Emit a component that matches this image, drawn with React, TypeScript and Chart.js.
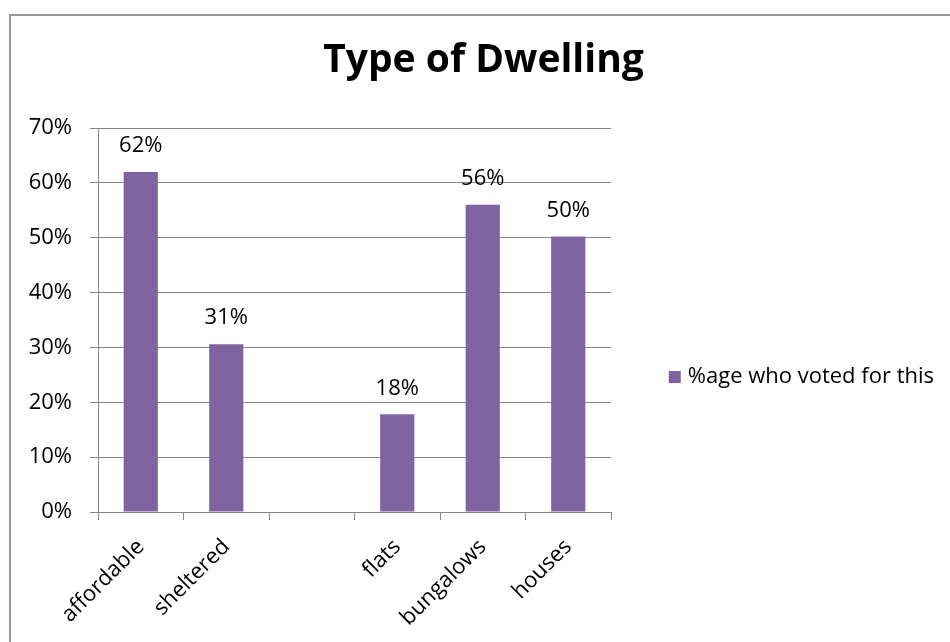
import React, { useEffect, useRef } from "react";
import { Chart, registerables } from "chart.js";

Chart.register(...registerables);

const TITLE = "Type of Dwelling";
const SERIES_LABEL = "%age who voted for this";
const CATEGORIES = ["affordable", "sheltered", "", "flats", "bungalows", "houses"];
const VALUES: (number | null)[] = [62, 30.6, null, 17.8, 56, 50.2];
const Y_MAX = 70;
const Y_STEP = 10;

const BAR_COLOR = "#8064A2";
const GRID_COLOR = "#868686";
const FONT_FAMILY = "'Open Sans', 'Noto Sans', sans-serif";

const dataLabels = {
  id: "dataLabels",
  afterDatasetsDraw(chart: any) {
    const { ctx } = chart;
    const meta = chart.getDatasetMeta(0);
    const values = chart.data.datasets[0].data;
    ctx.save();
    ctx.font = `22px ${FONT_FAMILY}`;
    ctx.fillStyle = "#000";
    ctx.textAlign = "center";
    ctx.textBaseline = "middle";
    meta.data.forEach((el: any, i: number) => {
      const v = values[i];
      if (v === null || v === undefined) return;
      ctx.fillText(Math.round(v) + "%", el.x, el.y - 26);
    });
    ctx.restore();
  },
};

const sideLegend = {
  id: "sideLegend",
  afterDraw(chart: any) {
    const { ctx, chartArea } = chart;
    const ds = chart.data.datasets[0];
    ctx.save();
    ctx.font = `22px ${FONT_FAMILY}`;
    const textW = ctx.measureText(ds.label).width;
    const textEnd = chartArea.right + 323;
    const tx = textEnd - textW;
    const cy = chartArea.top + 249;
    ctx.fillStyle = ds.backgroundColor;
    ctx.fillRect(tx - 19, cy - 6, 12, 12);
    ctx.fillStyle = "#000";
    ctx.textBaseline = "middle";
    ctx.textAlign = "left";
    ctx.fillText(ds.label, tx, cy);
    ctx.restore();
  },
};

export default function App() {
  const canvasRef = useRef<HTMLCanvasElement | null>(null);

  useEffect(() => {
    if (!canvasRef.current) return;
    const chart = new Chart(canvasRef.current, {
      type: "bar",
      data: {
        labels: CATEGORIES,
        datasets: [
          {
            label: SERIES_LABEL,
            data: VALUES,
            backgroundColor: BAR_COLOR,
            borderWidth: 0,
            categoryPercentage: 0.8,
            barPercentage: 0.5,
          },
        ],
      },
      options: {
        animation: false,
        responsive: false,
        devicePixelRatio: 1,
        layout: { padding: { left: 17, right: 0, top: 0, bottom: 0 } },
        plugins: {
          legend: { display: false },
          tooltip: { enabled: false },
          title: {
            display: true,
            text: TITLE,
            color: "#000",
            font: { family: FONT_FAMILY, size: 39, weight: "bold", lineHeight: 1.2 },
            padding: { top: 37, bottom: 44.2 },
          },
        },
        scales: {
          x: {
            grid: {
              drawOnChartArea: false,
              drawTicks: true,
              tickLength: 8,
              color: GRID_COLOR,
              offset: true,
            },
            border: { color: GRID_COLOR, width: 1 },
            ticks: {
              minRotation: 45,
              maxRotation: 45,
              autoSkip: false,
              color: "#000",
              font: { family: FONT_FAMILY, size: 22 },
              padding: 14,
            },
            afterFit: (s: any) => {
              s.height = 130;
            },
          },
          y: {
            min: 0,
            max: Y_MAX,
            grid: { color: GRID_COLOR, lineWidth: 1, tickLength: 8, drawTicks: true },
            border: { color: GRID_COLOR, width: 1 },
            ticks: {
              stepSize: Y_STEP,
              color: "#000",
              font: { family: FONT_FAMILY, size: 22 },
              padding: 18,
              callback: (v: any) => v + "%",
            },
            afterFit: (s: any) => {
              s.width = 81;
            },
          },
          y2: {
            position: "right",
            display: true,
            grid: { display: false, drawTicks: false },
            border: { display: false },
            ticks: { display: false },
            afterFit: (s: any) => {
              s.width = 339;
            },
          },
        },
      },
      plugins: [dataLabels, sideLegend],
    } as any);
    return () => chart.destroy();
  }, []);

  return (
    <div
      style={{
        position: "fixed",
        left: 0,
        top: 0,
        width: 950,
        height: 642,
        overflow: "hidden",
        background: "#fff",
      }}
    >
      <div
        style={{
          position: "absolute",
          left: 9,
          top: 14,
          width: 1000,
          height: 1000,
          borderLeft: "2px solid #999",
          borderTop: "2px solid #999",
        }}
      />
      <canvas
        ref={canvasRef}
        width={950}
        height={642}
        style={{ position: "absolute", left: 0, top: 0, width: 950, height: 642 }}
      />
    </div>
  );
}
